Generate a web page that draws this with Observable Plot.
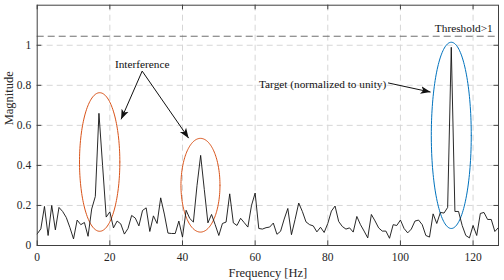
<!DOCTYPE html>
<html><head><meta charset="utf-8">
<script src="https://cdn.jsdelivr.net/npm/d3@7"></script>
<script src="https://cdn.jsdelivr.net/npm/@observablehq/plot@0.6"></script>
<style>html,body{margin:0;padding:0;background:#fff} svg{display:block}</style>
</head><body><div id="chart"></div>
<script>
// Spectrum magnitude at 0..127 Hz (1 Hz bins)
const magnitude = [
  0.058, 0.083, 0.195, 0.05, 0.2, 0.078, 0.19, 0.17, 0.14, 0.09,
  0.033, 0.127, 0.104, 0.115, 0.046, 0.182, 0.245, 0.66, 0.40, 0.142,
  0.168, 0.088, 0.122, 0.108, 0.057, 0.085, 0.15, 0.137, 0.098, 0.175,
  0.188, 0.07, 0.148, 0.11, 0.238, 0.157, 0.062, 0.06, 0.06, 0.122,
  0.042, 0.176, 0.135, 0.117, 0.30, 0.45, 0.28, 0.113, 0.155, 0.104,
  0.05, 0.11, 0.117, 0.258, 0.113, 0.1, 0.136, 0.114, 0.092, 0.2,
  0.262, 0.085, 0.082, 0.089, 0.092, 0.112, 0.056, 0.071, 0.132, 0.185,
  0.054, 0.13, 0.212, 0.17, 0.118, 0.104, 0.098, 0.068, 0.091, 0.065,
  0.11, 0.172, 0.197, 0.12, 0.095, 0.082, 0.088, 0.067, 0.145, 0.104,
  0.072, 0.038, 0.155, 0.123, 0.088, 0.072, 0.072, 0.036, 0.104, 0.1,
  0.127, 0.085, 0.063, 0.082, 0.122, 0.127, 0.104, 0.05, 0.042, 0.158,
  0.11, 0.165, 0.162, 0.19, 0.99, 0.17, 0.17, 0.1, 0.05, 0.038,
  0.1, 0.05, 0.16, 0.165, 0.13, 0.13, 0.07, 0.09
];
const frequency = magnitude.map((_, i) => i);

const xTicks = [0, 20, 40, 60, 80, 100, 120];
const yTicks = [0, 0.2, 0.4, 0.6, 0.8, 1];
const threshold = [1.045];

// Annotation ellipses (data units)
const ellipseCx = [17.2, 44.95, 114];
const ellipseCy = [0.417, 0.301, 0.55];
const ellipseRx = [5.55, 5.37, 5.5];
const ellipseRy = [0.346, 0.234, 0.465];
const ellipseColor = ["#D95319", "#D95319", "#0072BD"];

// Annotation arrows (data units)
const arrowX1 = [28.9, 28.9, 96.6];
const arrowY1 = [0.871, 0.871, 0.812];
const arrowX2 = [23.1, 41.7, 108.3];
const arrowY2 = [0.63, 0.536, 0.766];

// Annotation labels
const labelText = ["Interference", "Target (normalized to unity)", "Threshold>1"];
const labelX = [28.9, 96.1, 125.4];
const labelY = [0.904, 0.806, 1.086];
const labelAnchor = ["middle", "end", "end"];

const spectrum = frequency.map((f, i) => ({f, m: magnitude[i]}));
const serif = "'Liberation Serif', 'Times New Roman', serif";

function ellipsePoints(k) {
  const pts = [];
  const n = 160;
  for (let j = 0; j <= n; j++) {
    const t = (j / n) * 2 * Math.PI;
    pts.push({x: ellipseCx[k] + ellipseRx[k] * Math.cos(t), y: ellipseCy[k] + ellipseRy[k] * Math.sin(t)});
  }
  return pts;
}

function filledArrow(color, context) {
  const doc = (context && context.document) || document;
  const ns = "http://www.w3.org/2000/svg";
  const m = doc.createElementNS(ns, "marker");
  m.setAttribute("viewBox", "-10 -5 10 10");
  m.setAttribute("markerWidth", 10);
  m.setAttribute("markerHeight", 10);
  m.setAttribute("markerUnits", "userSpaceOnUse");
  m.setAttribute("orient", "auto");
  m.setAttribute("refX", 0);
  m.setAttribute("refY", 0);
  const p = doc.createElementNS(ns, "path");
  p.setAttribute("d", "M-10,-3.8L0,0L-10,3.8L-7.5,0Z");
  p.setAttribute("fill", color);
  p.setAttribute("stroke", "none");
  m.appendChild(p);
  return m;
}

const arrowIdx = arrowX1.map((_, i) => i);
const txt = "#262626";
const tickLenY = 0.023, tickLenX = 1.27;

function build(marker) {
  const ellipseMarks = ellipseCx.map((_, k) =>
    Plot.line(ellipsePoints(k), {x: "x", y: "y", stroke: ellipseColor[k], strokeWidth: 1, curve: "linear"}));
  const labelMarks = labelText.map((t, i) =>
    Plot.text([t], {x: () => labelX[i], y: () => labelY[i], text: d => d,
      textAnchor: labelAnchor[i], fontSize: 11.3, fontFamily: serif, fill: "#111"}));
  return Plot.plot({
    width: 504, height: 280,
    marginLeft: 36.7, marginRight: 6, marginTop: 4.7, marginBottom: 35,
    x: {domain: [0, 127]},
    y: {domain: [0, 1.2]},
    style: {fontFamily: serif, fontSize: "11.5px", color: txt, background: "white"},
    marks: [
      Plot.gridX(xTicks.slice(1), {stroke: "#d6d6d6", strokeOpacity: 1, strokeDasharray: "6,4"}),
      Plot.gridY(yTicks.slice(1), {stroke: "#d6d6d6", strokeOpacity: 1, strokeDasharray: "6,4"}),
      Plot.ruleY(threshold, {stroke: "#6e6e6e", strokeWidth: 1, strokeDasharray: "7,4"}),
      ...ellipseMarks,
      Plot.line(spectrum, {x: "f", y: "m", stroke: "#111", strokeWidth: 0.9}),
      Plot.ruleX(xTicks, {x: d => d, y1: 0, y2: tickLenY, stroke: "#404040"}),
      Plot.ruleX(xTicks, {x: d => d, y1: 1.2 - tickLenY, y2: 1.2, stroke: "#404040"}),
      Plot.ruleY(yTicks, {y: d => d, x1: 0, x2: tickLenX, stroke: "#404040"}),
      Plot.ruleY(yTicks, {y: d => d, x1: 127 - tickLenX, x2: 127, stroke: "#404040"}),
      Plot.frame({stroke: "#404040", strokeWidth: 1}),
      Plot.axisX(xTicks, {tickSize: 0, tickPadding: 7, label: null, fill: txt, fontFamily: serif, fontSize: 11.5}),
      Plot.axisY(yTicks, {tickSize: 0, tickPadding: 6, label: null, fill: txt, fontFamily: serif, fontSize: 11.5, tickFormat: d => String(+d.toFixed(1))}),
      Plot.text(["Frequency [Hz]"], {frameAnchor: "bottom", dy: 27, lineAnchor: "middle", fontSize: 12.5, fontFamily: serif, fill: txt}),
      Plot.text(["Magnitude"], {frameAnchor: "left", dx: -28, rotate: -90, fontSize: 12.5, fontFamily: serif, fill: txt}),
      Plot.link(arrowIdx, {
        x1: i => arrowX1[i], y1: i => arrowY1[i], x2: i => arrowX2[i], y2: i => arrowY2[i],
        stroke: "#111", strokeWidth: 1, markerEnd: marker
      }),
      ...labelMarks
    ]
  });
}

let chart;
try { chart = build(filledArrow); } catch (e) { chart = build("arrow"); }
document.getElementById("chart").appendChild(chart);
</script>
</body></html>
